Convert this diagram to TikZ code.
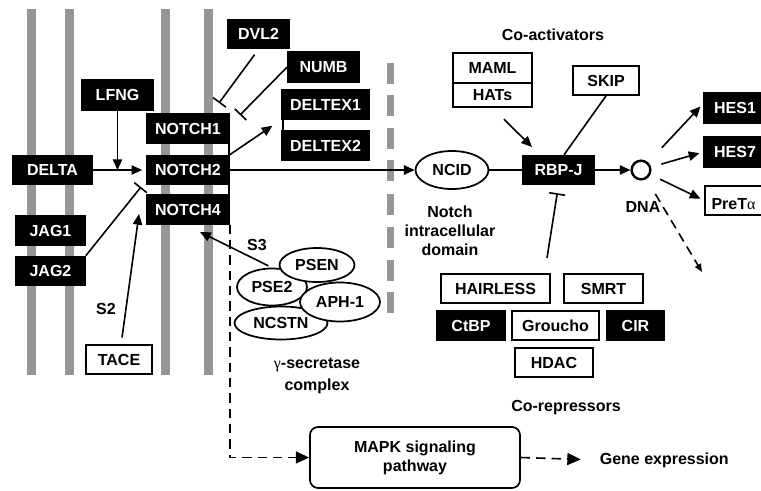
\documentclass[tikz,border=0pt]{standalone}
\usepackage{fontspec}
\setmainfont{Liberation Sans}
\newfontfamily\greekfont{Liberation Serif}
\usetikzlibrary{arrows.meta,shapes.geometric}
\definecolor{membgray}{RGB}{150,150,150}
\newcommand{\lblfont}{\bfseries\fontsize{12}{14.25}\selectfont}
\tikzset{every picture/.style={line width=1.2pt}}
\tikzset{
  blackbox/.style={draw=black, fill=black, text=white, font=\lblfont, inner sep=0pt, minimum height=21.75pt},
  whitebox/.style={draw=black, fill=white, line width=1.3pt, font=\lblfont, inner sep=0pt, minimum height=21.75pt},
  prot/.style={ellipse, draw=black, fill=white, line width=1.3pt, font=\lblfont, inner sep=0pt},
  lbl/.style={font=\lblfont, align=center, inner sep=0.75pt},
  arr/.style={-{Triangle[length=8pt,width=7pt]}},
  inh/.style={-{Bar[width=12pt]}},
  dsh/.style={dash pattern=on 7pt off 4.5pt},
}

\begin{document}
\begin{tikzpicture}[x=0.75pt,y=0.75pt,yscale=-1,xscale=1]
	\useasboundingbox (0,0) rectangle (761,490);

	%Shape: Membranes
	\foreach \x in {27,65,161,204}
		\fill[membgray] (\x,9) rectangle (\x+9,375);
	%Shape: Nuclear membrane
	\foreach \y in {63,95,128,160,194,227,260,292}
		\fill[membgray] (387,\y) rectangle (394,\y+21);

	%Straight Lines (bracket of the receptors)
	\draw (229,128.5) -- (229,223);

	%Shape: Rectangle (ligands and receptors)
	\node[blackbox, minimum width=53.25pt, minimum height=22.5pt] (lfng) at (117.5,95) {LFNG};
	\node[blackbox, minimum width=59.25pt] (delta) at (52.5,170) {DELTA};
	\node[blackbox, minimum width=51.75pt] (jag1) at (50.5,230.5) {JAG1};
	\node[blackbox, minimum width=51.75pt] (jag2) at (50.5,271) {JAG2};
	\node[blackbox, minimum width=61.5pt] (notch1) at (188,128.5) {NOTCH1};
	\node[blackbox, minimum width=61.5pt] (notch2) at (188,170) {NOTCH2};
	\node[blackbox, minimum width=61.5pt] (notch4) at (188,209.5) {NOTCH4};
	\node[whitebox, minimum width=49.5pt] (tace) at (119,359.5) {TACE};

	%Shape: Rectangle (cytoplasm)
	\node[blackbox, minimum width=45.75pt] (dvl2) at (258.5,34) {DVL2};
	\node[blackbox, minimum width=53.25pt, minimum height=22.5pt] (numb) at (323.5,67) {NUMB};
	\draw (283,104.5) -- (283,145.5);
	\node[blackbox, minimum width=65.25pt] (deltex1) at (325.5,104.5) {DELTEX1};
	\node[blackbox, minimum width=65.25pt] (deltex2) at (325.5,145.5) {DELTEX2};

	%Shape: Ellipse (gamma-secretase)
	\node[prot, minimum width=69.75pt, minimum height=24.75pt] (ncstn) at (281,323) {NCSTN};
	\node[prot, minimum width=52.5pt, minimum height=27.75pt] (pse2) at (272,287) {PSE2};
	\node[prot, minimum width=56.25pt, minimum height=25.5pt] (psen) at (317,265) {PSEN};
	\node[prot, minimum width=60pt, minimum height=29.25pt] (aph1) at (340,302) {APH-1};

	%Shape: Nucleus
	\node[prot, minimum width=54.75pt, minimum height=28.5pt] (ncid) at (452,170) {NCID};
	\node[whitebox, minimum width=59.25pt, minimum height=22.5pt] (maml) at (492.5,68) {MAML};
	\node[whitebox, minimum width=59.25pt, minimum height=18pt] (hats) at (492.5,95) {HATs};
	\node[whitebox, minimum width=49.5pt] (skip) at (606,80.5) {SKIP};
	\node[blackbox, minimum width=53.25pt] (rbpj) at (558.5,170) {RBP-J};
	\node[circle, draw=black, line width=1.8pt, minimum size=14pt, inner sep=0pt] (dna) at (641,170) {};
	\node[blackbox, minimum width=46.5pt, minimum height=22.5pt] (hes1) at (735,108) {HES1};
	\node[blackbox, minimum width=46.5pt, minimum height=22.5pt] (hes7) at (735,152) {HES7};
	\node[whitebox, anchor=north west, text width=40pt, align=left, inner xsep=5pt, inner ysep=2pt, text height=15.5pt, text depth=1.5pt] (preta) at (704,185) {PreT{\greekfont\mdseries α}};

	%Shape: Rectangle (co-repressors)
	\node[whitebox, minimum width=81.75pt] (hairless) at (495.5,288.5) {HAIRLESS};
	\node[whitebox, minimum width=59.25pt] (smrt) at (603.5,288.5) {SMRT};
	\node[blackbox, minimum width=51pt] (ctbp) at (471,325.5) {CtBP};
	\node[whitebox, minimum width=65.25pt] (groucho) at (555.5,325.5) {Groucho};
	\node[blackbox, minimum width=42.75pt] (cir) at (635.5,325.5) {CIR};
	\node[whitebox, minimum width=58.5pt] (hdac) at (554,362.5) {HDAC};

	%Shape: Rounded Rect
	\node[whitebox, rounded corners=6pt, align=center, minimum width=157.5pt, minimum height=45.75pt] (mapk) at (415,457.5) {MAPK signaling\\pathway};

	% Text Node
	\node[lbl] (coact) at (553,35) {Co-activators};
	\node[lbl] (nicd) at (450,231) {Notch\\intracellular\\domain};
	\node[lbl] (dnalbl) at (643,207) {DNA};
	\node[lbl] (corep) at (566,408) {Co-repressors};
	\node[lbl, anchor=west] (gene) at (598,460) {Gene expression};
	\node[lbl] (s2) at (106,309) {S2};
	\node[lbl] (s3) at (257,245) {S3};
	\node[lbl, font=\bfseries\fontsize{12}{16.5}\selectfont] (gsec) at (317,376) {{\greekfont\mdseries γ}-secretase\\complex};

	%Free ends
	\coordinate (jagbar) at (141,187);
	\coordinate (s2tip) at (139,214);
	\coordinate (s3tip) at (200,232);
	\coordinate (dvlbar) at (219,103);
	\coordinate (numbbar) at (240,115);
	\coordinate (coatip) at (532,147);
	\coordinate (corepr) at (547,258);
	\coordinate (dnaend) at (702,272);

	%Straight Lines
	\draw[arr] (lfng) -- (lfng |- delta);
	\draw[arr, shorten >=3pt] (delta) -- (notch2);
	\draw[inh] (jag2.north east) -- (jagbar);
	\draw[arr, shorten <=5pt] (tace) -- (s2tip);
	\draw[arr, shorten <=3pt] (pse2.north) -- (s3tip);
	\draw[inh, shorten <=5pt] (dvl2.south) -- (dvlbar);
	\draw[inh] (numb.west) -- (numbbar);
	\draw[arr, shorten >=8pt] (notch2.north east) -- (deltex1.south west);
	\draw[arr] (notch2) -- (ncid);
	\draw (ncid) -- (rbpj);
	\draw[arr] (rbpj) -- (dna);
	\draw[arr, shorten <=12pt] (hats.south) -- (coatip);
	\draw (skip.south) -- (rbpj.70);
	\draw[inh, shorten >=6pt] (corepr) -- (rbpj.south);
	\draw[arr, shorten <=15pt, shorten >=3pt] (dna) -- (hes1.172);
	\draw[arr, shorten <=8pt, shorten >=3pt] (dna) -- (hes7.west);
	\draw[arr, shorten <=8pt, shorten >=3pt] (dna) -- (preta.west);
	\draw[-{Triangle[length=6pt,width=5pt]}, dsh, shorten <=13pt] (dna) -- (dnaend);
	\draw[-{Triangle[length=10pt,width=9pt]}, dsh] (notch4.south east) |- (mapk.west);
	\draw[-{Triangle[length=10pt,width=9pt]}, dsh, shorten >=13pt] (mapk.east) -- (gene.west);

\end{tikzpicture}
\end{document}
